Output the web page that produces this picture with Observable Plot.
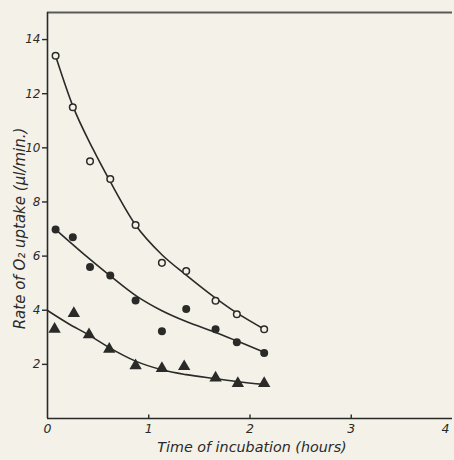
<!DOCTYPE html>
<html>
<head>
<meta charset="utf-8">
<script src="https://cdn.jsdelivr.net/npm/d3@7"></script>
<script src="https://cdn.jsdelivr.net/npm/@observablehq/plot@0.6"></script>
<style>
  html, body { margin: 0; padding: 0; background: #f4f1e8; }
  #chart svg { display: block; }
</style>
</head>
<body>
<div id="chart"></div>
<script>
// Measured uptake rates (µl O2 / min) against time of incubation (hours)
const sampleHours = [0.08, 0.25, 0.42, 0.62, 0.87, 1.13, 1.37, 1.66, 1.87, 2.14];
const rateOpen    = [13.4, 11.5, 9.5, 8.85, 7.15, 5.75, 5.45, 4.35, 3.85, 3.3];
const rateFilled  = [6.98, 6.7, 5.6, 5.28, 4.36, 3.22, 4.05, 3.3, 2.82, 2.42];
const triHours    = [0.07, 0.26, 0.41, 0.61, 0.87, 1.13, 1.35, 1.66, 1.88, 2.14];
const rateTri     = [3.3, 3.88, 3.1, 2.56, 1.95, 1.85, 1.92, 1.5, 1.3, 1.3];

// Hand-fitted smooth curves through each series
const openCurveHours   = [0.08, 0.25, 0.45, 0.62, 0.87, 1.13, 1.37, 1.66, 1.87, 2.14];
const openCurveRate    = [13.4, 11.55, 9.95, 8.75, 7.15, 6.05, 5.3, 4.45, 3.9, 3.3];
const filledCurveHours = [0.08, 0.35, 0.61, 0.88, 1.13, 1.37, 1.66, 1.88, 2.14];
const filledCurveRate  = [6.98, 6.1, 5.3, 4.52, 3.98, 3.58, 3.18, 2.85, 2.45];
const triCurveHours    = [0.0, 0.2, 0.41, 0.61, 0.87, 1.13, 1.37, 1.66, 1.88, 2.14];
const triCurveRate     = [3.99, 3.52, 3.08, 2.62, 2.12, 1.8, 1.62, 1.47, 1.36, 1.26];

const xTicks = [0, 1, 2, 3, 4];
const yTicks = [2, 4, 6, 8, 10, 12, 14];

const ink = "#2a2a28";
const paper = "#f4f1e8";
const font = "'DejaVu Sans', sans-serif";

const pts = (xs, ys) => xs.map((x, i) => ({x, y: ys[i]}));
const lastTick = xTicks[xTicks.length - 1];

const chart = Plot.plot({
  width: 454,
  height: 460,
  marginLeft: 47,
  marginTop: 12,
  marginBottom: 42,
  marginRight: 2,
  style: {background: paper, fontFamily: font, fontStyle: "italic", color: ink},
  x: {domain: [0, 4], axis: null},
  y: {domain: [0, 15], axis: null},
  marks: [
    // frame: top border, left and bottom axes
    Plot.ruleY([15], {stroke: "#5a5a58", strokeWidth: 2}),
    Plot.ruleX([0], {stroke: ink, strokeWidth: 1.6}),
    Plot.ruleY([0], {stroke: ink, strokeWidth: 1.6}),
    // y ticks (outward) and their labels
    Plot.axisY(yTicks, {anchor: "left", tickSize: 5, tickPadding: 2, fontSize: 12, stroke: ink, strokeWidth: 1.4, label: null}),
    // x ticks (short, inward) and labels; the last label sits against the right edge
    Plot.ruleX(xTicks.slice(1, 4), {x: d => d, y1: 0, y2: 0.13, stroke: ink, strokeWidth: 1.4}),
    Plot.text(xTicks.filter(d => d !== lastTick), {x: d => d, frameAnchor: "bottom", dy: 14, fontSize: 12.5, fill: ink}),
    Plot.text([lastTick], {x: d => d, frameAnchor: "bottom", dy: 14, dx: -3, textAnchor: "end", fontSize: 12.5, fill: ink}),
    Plot.text(["Time of incubation (hours)"], {frameAnchor: "bottom", dy: 33, dx: 2, fontSize: 14.3, fill: ink}),
    Plot.text(["Rate of O₂ uptake (µl/min.)"], {frameAnchor: "left", textAnchor: "middle", dx: -27, dy: 13, rotate: -90, fontSize: 15, fill: ink}),
    // fitted curves
    Plot.line(pts(openCurveHours, openCurveRate), {x: "x", y: "y", curve: "monotone-x", stroke: ink, strokeWidth: 1.6}),
    Plot.line(pts(filledCurveHours, filledCurveRate), {x: "x", y: "y", curve: "monotone-x", stroke: ink, strokeWidth: 1.6}),
    Plot.line(pts(triCurveHours, triCurveRate), {x: "x", y: "y", curve: "monotone-x", stroke: ink, strokeWidth: 1.6}),
    // observations
    Plot.dot(pts(sampleHours, rateOpen), {x: "x", y: "y", r: 3.3, fill: paper, stroke: ink, strokeWidth: 1.5}),
    Plot.dot(pts(sampleHours, rateFilled), {x: "x", y: "y", r: 4, fill: ink}),
    Plot.dot(pts(triHours, rateTri), {x: "x", y: "y", r: 4.6, symbol: "triangle", fill: ink})
  ]
});

document.getElementById("chart").append(chart);
</script>
</body>
</html>
